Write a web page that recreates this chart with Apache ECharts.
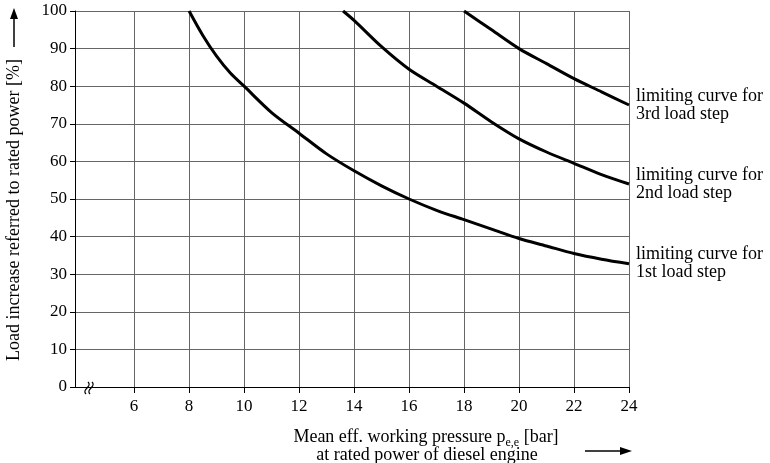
<!DOCTYPE html>
<html><head><meta charset="utf-8">
<script src="https://cdn.jsdelivr.net/npm/echarts@6/dist/echarts.min.js"></script>
<style>html,body{margin:0;padding:0;background:#fff}#c{width:770px;height:463px}</style>
</head><body><div id="c"></div>
<script>
const FONT = '"Liberation Serif", "DejaVu Serif", serif';
const xTicks = [6, 8, 10, 12, 14, 16, 18, 20, 22, 24];
const yTicks = [0, 10, 20, 30, 40, 50, 60, 70, 80, 90, 100];
// 1st load step
const x1 = [8, 8.5, 9, 9.5, 10, 11, 12, 13, 14, 15, 16, 17, 18, 19, 20, 21, 22, 23, 24];
const y1 = [100, 93.5, 88, 83.5, 80, 73, 67.5, 62, 57.5, 53.5, 50, 47, 44.5, 42, 39.5, 37.5, 35.5, 34, 32.8];
// 2nd load step
const x2 = [13.6, 14, 15, 16, 17, 18, 19, 20, 21, 22, 23, 24];
const y2 = [100, 97.5, 90.5, 84.5, 80, 75.5, 70.5, 66, 62.5, 59.5, 56.5, 54];
// 3rd load step
const x3 = [18, 19, 20, 21, 22, 23, 24];
const y3 = [100, 95, 90, 86, 82, 78.5, 75];
const labels = ['limiting curve for\n1st load step', 'limiting curve for\n2nd load step', 'limiting curve for\n3rd load step'];

const zip = (a, b) => a.map((v, i) => [v, b[i]]);
const chart = echarts.init(document.getElementById('c'));
const mk = (xs, ys, lab) => ({
  type: 'line', data: zip(xs, ys), smooth: 0.3, symbol: 'none',
  lineStyle: {color: '#000', width: 3}, animation: false,
  endLabel: {show: true, formatter: lab, distance: 7, color: '#000', fontFamily: FONT, fontSize: 18, lineHeight: 18, align: 'left'}
});
chart.setOption({
  animation: false,
  grid: {left: 75, right: 141, top: 11, bottom: 76},
  xAxis: {
    type: 'value', min: 3.85, max: 24,
    axisLine: {lineStyle: {color: '#000', width: 1}},
    axisTick: {show: true, customValues: xTicks, length: 6, lineStyle: {color: '#000'}},
    axisLabel: {customValues: xTicks, color: '#000', fontFamily: FONT, fontSize: 17, margin: 11},
    splitLine: {show: true, lineStyle: {color: '#666', width: 1}}
  },
  yAxis: {
    type: 'value', min: 0, max: 100, interval: 10,
    axisLine: {show: true, lineStyle: {color: '#000', width: 1}},
    axisTick: {show: true, length: 5, lineStyle: {color: '#000'}},
    axisLabel: {color: '#000', fontFamily: FONT, fontSize: 17, margin: 8},
    splitLine: {show: true, lineStyle: {color: '#666', width: 1}}
  },
  series: [mk(x1, y1, labels[0]), mk(x2, y2, labels[1]), mk(x3, y3, labels[2])],
  graphic: [
    {type: 'text', x: 14, y: 210, rotation: Math.PI / 2, style: {text: 'Load increase referred to rated power [%]', font: '18px ' + FONT, fill: '#000', align: 'center', verticalAlign: 'middle'}},
    {type: 'line', shape: {x1: 14, y1: 47, x2: 14, y2: 16}, style: {stroke: '#000', lineWidth: 1.5}},
    {type: 'polygon', shape: {points: [[14, 8], [10, 19], [18, 19]]}, style: {fill: '#000'}},
    {type: 'text', x: 426, y: 428, style: {text: '{a|Mean eff. working pressure p}{s|e,e}{a| [bar]}', rich: {a: {fontFamily: FONT, fontSize: 18, fill: '#000', verticalAlign: 'top', lineHeight: 18}, s: {fontFamily: FONT, fontSize: 12, fill: '#000', verticalAlign: 'top', lineHeight: 12, padding: [9, 0, 0, 0]}}, align: 'center', verticalAlign: 'top'}},
    {type: 'text', x: 427, y: 455, style: {text: 'at rated power of diesel engine', font: '18px ' + FONT, fill: '#000', align: 'center', verticalAlign: 'middle'}},
    {type: 'line', shape: {x1: 585, y1: 451, x2: 622, y2: 451}, style: {stroke: '#000', lineWidth: 1.5}},
    {type: 'polygon', shape: {points: [[632, 451], [620, 447], [620, 455]]}, style: {fill: '#000'}},
    {type: 'bezierCurve', shape: {x1: 86, y1: 394, x2: 88, y2: 382, cpx1: 81, cpy1: 389, cpx2: 93, cpy2: 387}, style: {stroke: '#000', lineWidth: 1.3, fill: null}},
    {type: 'bezierCurve', shape: {x1: 90, y1: 394, x2: 92, y2: 382, cpx1: 85, cpy1: 389, cpx2: 97, cpy2: 387}, style: {stroke: '#000', lineWidth: 1.3, fill: null}}
  ]
});
</script></body></html>
